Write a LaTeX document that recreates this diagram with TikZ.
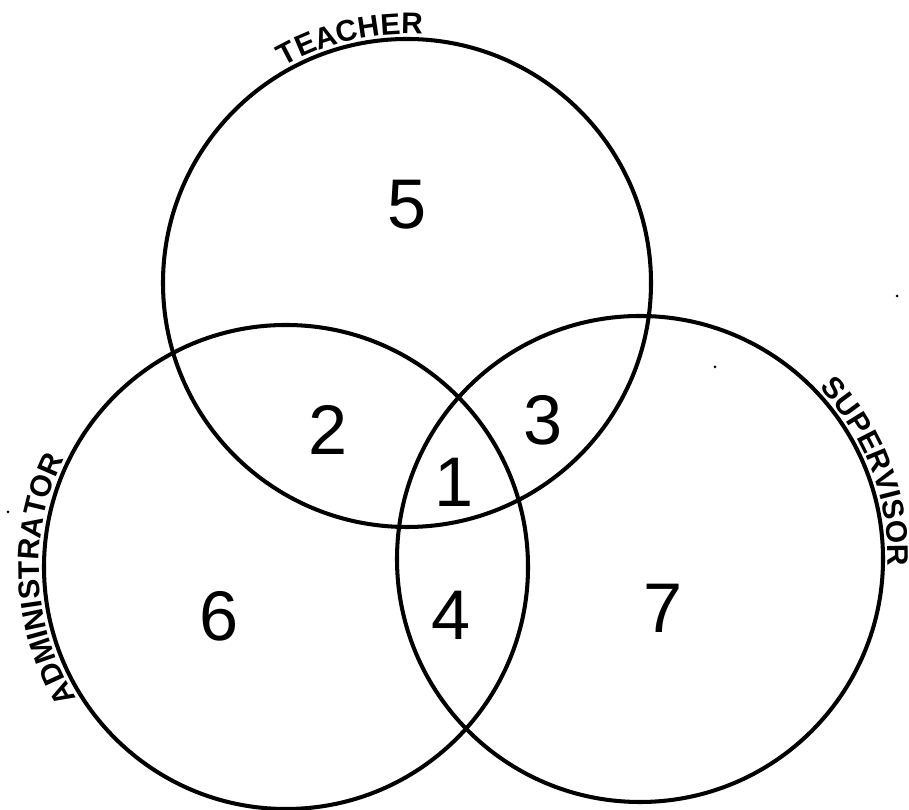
\documentclass[tikz,border=0pt]{standalone}
\usepackage{fontspec}
\setmainfont{Liberation Sans}
\usetikzlibrary{decorations.text}
\newcommand\lblfont{\fontsize{17}{17}\selectfont\bfseries}
\begin{document}
\begin{tikzpicture}[x=0.02cm,y=0.02cm,
  setring/.style={draw=black,line width=2.3pt},
  num/.style={inner sep=0pt,font=\fontsize{40}{40}\selectfont},
  arclabel/.style={decorate,decoration={text along path,text align=center,text={#1}}},
  speck/.style={fill=black}]
\useasboundingbox (0,0) rectangle (909,810);
\coordinate (cT) at (407,527);
\coordinate (cA) at (286,243);
\coordinate (cS) at (640,251);
% circles
\draw[setring] (cT) circle[radius=244];
\draw[setring] (cA) circle[radius=242];
\draw[setring] (cS) circle[radius=243];
% curved labels
\path[arclabel={|\lblfont|TEACHER}] (cT) ++(130:249) arc[start angle=130,end angle=76,radius=249];
\path[arclabel={|\lblfont|ADMINISTRATOR}] (cA) ++(220:247) arc[start angle=220,end angle=146,radius=247];
\path[arclabel={|\lblfont|SUPERVISOR}] (cS) ++(53:248) arc[start angle=53,end angle=-11,radius=248];
% region numbers
\node[num] (n5) at (407,605) {5};
\node[num] (n2) at (328,380) {2};
\node[num] (n3) at (543,390) {3};
\node[num] (n1) at (454,328) {1};
\node[num] (n4) at (451,195) {4};
\node[num] (n6) at (219,194) {6};
\node[num] (n7) at (663,202) {7};
% specks
\fill[speck] (715,443) circle[radius=1.5];
\fill[speck] (897,514) circle[radius=1.5];
\fill[speck] (8,298) circle[radius=1.5];
\end{tikzpicture}
\end{document}
